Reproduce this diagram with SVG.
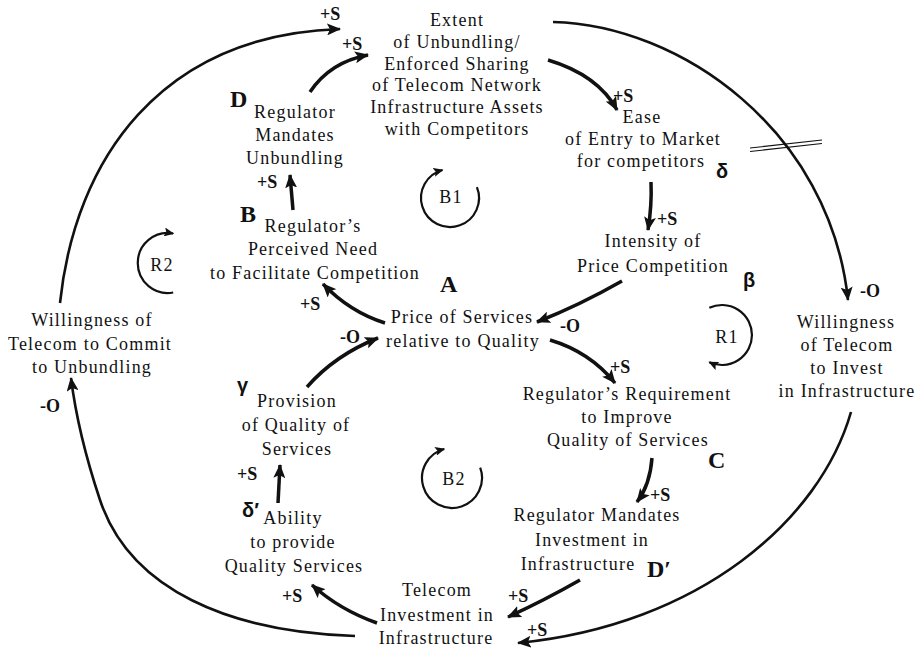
<svg xmlns="http://www.w3.org/2000/svg" width="920" height="648" viewBox="0 0 920 648">
<defs>
<style>
.t{font-size:18px;letter-spacing:1.2px;fill:#111;text-anchor:middle}
.l{font-size:18px;font-weight:bold;fill:#111}
.k{font-size:24px;font-weight:bold;fill:#111}
.g{font-size:20px;font-weight:bold;fill:#111}
.a{fill:none;stroke:#111;stroke-width:3.5;marker-end:url(#ah)}
.b{fill:none;stroke:#111;stroke-width:2.6;marker-end:url(#ah)}
.c{fill:none;stroke:#111;stroke-width:2.2;marker-end:url(#sh)}
.h{fill:none;stroke:#111;stroke-width:1.1}
</style>
<marker id="ah" markerUnits="userSpaceOnUse" markerWidth="16" markerHeight="12" refX="13" refY="6" orient="auto"><path d="M0,0 L14,6 L0,12 L3,6 z" fill="#111"/></marker>
<marker id="sh" markerUnits="userSpaceOnUse" markerWidth="11" markerHeight="9" refX="9" refY="4.5" orient="auto"><path d="M0,0 L10,4.5 L0,9 L2,4.5 z" fill="#111"/></marker>
</defs>
<rect width="920" height="648" fill="#fff"/>

<g id="connectors">
<path class="b" d="M60,303 C75,160 160,35 340,29"/>
<path class="a" d="M310,92 Q330,62 368,55"/>
<path class="a" d="M548,60 Q598,75 617,110"/>
<path class="b" d="M553,22 C680,25 830,130 848,300"/>
<path class="a" d="M651,182 Q652,205 648,230"/>
<path class="a" d="M622,281 Q580,305 537,322"/>
<path class="a" d="M385,323 Q350,312 323,284"/>
<path class="a" d="M293,210 L290,175"/>
<path class="a" d="M307,387 Q335,355 378,338"/>
<path class="a" d="M550,340 Q590,352 615,383"/>
<path class="a" d="M652,458 Q650,485 637,502"/>
<path class="a" d="M580,580 Q545,600 508,617"/>
<path class="a" d="M377,623 Q340,610 312,585"/>
<path class="a" d="M278,503 L280,465"/>
<path class="b" d="M851,412 C820,520 700,625 518,643"/>
<path class="b" d="M355,636 C230,632 130,590 100,500 C85,455 75,410 71,378"/>
<line class="h" x1="750" y1="148" x2="822" y2="140"/>
<line class="h" x1="750" y1="151.5" x2="822" y2="143.5"/>
</g>

<g font-family="Liberation Serif, DejaVu Serif, serif">
<g id="loops">
<g id="loop-B1"><path class="c" d="M476.9,187.1 A29,29 0 1 1 442.5,170"/><text class="t" x="451" y="203" letter-spacing="0">B1</text></g>
<g id="loop-R2"><path class="c" d="M173.2,292.5 A30,30 0 1 1 173.2,233.5"/><text class="t" x="162" y="271" letter-spacing="0">R2</text></g>
<g id="loop-R1"><path class="c" d="M709.3,307.8 A30,30 0 1 1 709.3,362.2"/><text class="t" x="727" y="343" letter-spacing="0">R1</text></g>
<g id="loop-B2"><path class="c" d="M480.2,467.7 A30,30 0 1 1 444.2,449"/><text class="t" x="454" y="485" letter-spacing="0">B2</text></g>
</g>

<g id="labels">
<text class="l" x="320" y="20">+S</text>
<text class="l" x="342" y="50">+S</text>
<text class="l" x="613" y="102">+S</text>
<text class="l" x="657" y="225">+S</text>
<text class="l" x="860" y="297">-O</text>
<text class="l" x="257" y="188">+S</text>
<text class="l" x="300" y="310">+S</text>
<text class="l" x="340" y="343">-O</text>
<text class="l" x="560" y="332">-O</text>
<text class="l" x="610" y="373">+S</text>
<text class="l" x="650" y="501">+S</text>
<text class="l" x="508" y="602">+S</text>
<text class="l" x="527" y="636">+S</text>
<text class="l" x="282" y="602">+S</text>
<text class="l" x="237" y="480">+S</text>
<text class="l" x="40" y="412">-O</text>
<text class="k" x="230" y="107">D</text>
<text class="k" x="240" y="222">B</text>
<text class="k" x="440" y="292" font-size="22">A</text>
<text class="k" x="708" y="468">C</text>
<text class="k" x="647" y="577">D′</text>
<g font-family="Liberation Sans, DejaVu Sans, sans-serif">
<text class="g" x="743" y="287">β</text>
<text class="g" x="716" y="178">δ</text>
<text class="g" x="237" y="392">γ</text>
<text class="g" x="242" y="517">δ′</text>
</g>
</g>

<g id="n-extent">
<text class="t" x="457" y="26">Extent</text>
<text class="t" x="457" y="48">of Unbundling/</text>
<text class="t" x="457" y="70">Enforced Sharing</text>
<text class="t" x="457" y="91">of Telecom Network</text>
<text class="t" x="457" y="113">Infrastructure Assets</text>
<text class="t" x="457" y="135">with Competitors</text>
</g>
<g id="n-ease">
<text class="t" x="642" y="123">Ease</text>
<text class="t" x="643" y="145">of Entry to Market</text>
<text class="t" x="641" y="167">for competitors</text>
</g>
<g id="n-intensity">
<text class="t" x="653" y="247">Intensity of</text>
<text class="t" x="653" y="272">Price Competition</text>
</g>
<g id="n-will-invest">
<text class="t" x="846" y="328">Willingness</text>
<text class="t" x="847" y="351">of Telecom</text>
<text class="t" x="847" y="374">to Invest</text>
<text class="t" x="847" y="397">in Infrastructure</text>
</g>
<g id="n-req">
<text class="t" x="627" y="400">Regulator’s Requirement</text>
<text class="t" x="627" y="423">to Improve</text>
<text class="t" x="628" y="446">Quality of Services</text>
</g>
<g id="n-mand-inv">
<text class="t" x="597" y="521">Regulator Mandates</text>
<text class="t" x="592" y="546">Investment in</text>
<text class="t" x="578" y="570">Infrastructure</text>
</g>
<g id="n-tel-inv">
<text class="t" x="437" y="596">Telecom</text>
<text class="t" x="437" y="621">Investment in</text>
<text class="t" x="436" y="644">Infrastructure</text>
</g>
<g id="n-ability">
<text class="t" x="293" y="524">Ability</text>
<text class="t" x="293" y="548">to provide</text>
<text class="t" x="294" y="572">Quality Services</text>
</g>
<g id="n-provision">
<text class="t" x="297" y="407">Provision</text>
<text class="t" x="296" y="431">of Quality of</text>
<text class="t" x="297" y="455">Services</text>
</g>
<g id="n-price">
<text class="t" x="462" y="323">Price of Services</text>
<text class="t" x="463" y="347">relative to Quality</text>
</g>
<g id="n-perceived">
<text class="t" x="313" y="232">Regulator’s</text>
<text class="t" x="313" y="255">Perceived Need</text>
<text class="t" x="315" y="279">to Facilitate Competition</text>
</g>
<g id="n-mand-unb">
<text class="t" x="295" y="118">Regulator</text>
<text class="t" x="295" y="141">Mandates</text>
<text class="t" x="295" y="164">Unbundling</text>
</g>
<g id="n-will-commit">
<text class="t" x="92" y="326">Willingness of</text>
<text class="t" x="90" y="350">Telecom to Commit</text>
<text class="t" x="92" y="373">to Unbundling</text>
</g>
</g>
</svg>
